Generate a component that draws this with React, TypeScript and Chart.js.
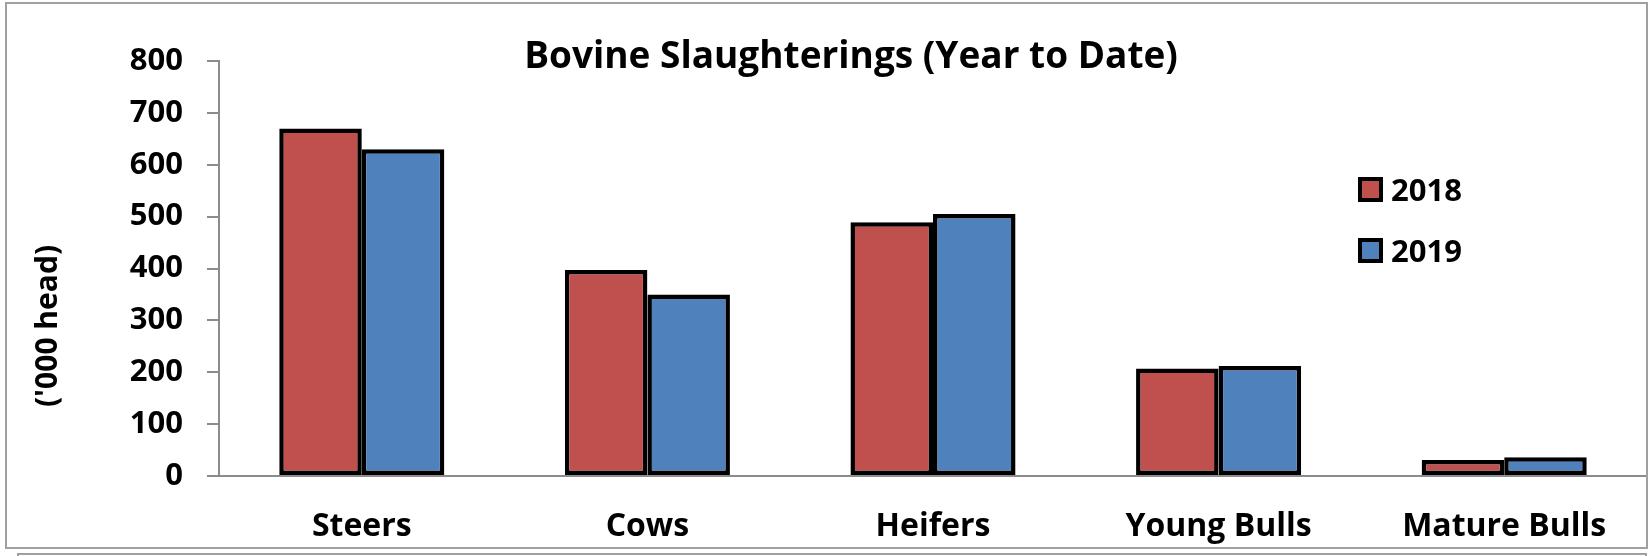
import React, { useEffect, useRef } from "react";
import { Chart, registerables } from "chart.js";

Chart.register(...registerables);

const categories = ["Steers", "Cows", "Heifers", "Young Bulls", "Mature Bulls"];
const seriesLabels = ["2018", "2019"];
const series2018 = [670, 397, 489, 207, 31];
const series2019 = [630, 350, 505, 212, 36];
const seriesColors = ["#C0504D", "#4F81BD"];
const yMin = 0;
const yMax = 800;
const yStep = 100;
const titleText = "Bovine Slaughterings (Year to Date)";
const yTitleText = "('000 head)";

const FONT = "'Open Sans', Lato, 'DejaVu Sans', sans-serif";

const decorPlugin = {
  id: "decor",
  beforeDraw(chart: any) {
    const ctx = chart.ctx;
    ctx.save();
    ctx.fillStyle = "#ffffff";
    ctx.fillRect(0, 0, chart.width, chart.height);
    ctx.restore();
  },
  afterDraw(chart: any) {
    const ctx = chart.ctx;
    ctx.save();
    // frames
    ctx.strokeStyle = "#A0A0A0";
    ctx.lineWidth = 2;
    ctx.strokeRect(6, 3, 1641, 545);
    ctx.beginPath();
    ctx.moveTo(18, 556);
    ctx.lineTo(18, 554);
    ctx.lineTo(1646, 554);
    ctx.lineTo(1646, 556);
    ctx.stroke();
    // title
    ctx.fillStyle = "#000";
    ctx.font = `bold 37px ${FONT}`;
    ctx.textAlign = "center";
    ctx.textBaseline = "alphabetic";
    ctx.fillText(titleText, 851, 68);
    // y title
    ctx.save();
    ctx.translate(57, 326);
    ctx.rotate(-Math.PI / 2);
    ctx.font = `bold 30px ${FONT}`;
    ctx.textAlign = "center";
    ctx.textBaseline = "alphabetic";
    ctx.fillText(yTitleText, 0, 0);
    ctx.restore();
    // legend
    const ds = chart.data.datasets;
    ds.forEach((d: any, i: number) => {
      const bx = 1358;
      const by = 177 + i * 61;
      ctx.fillStyle = "#000";
      ctx.fillRect(bx, by, 25, 25);
      ctx.fillStyle = d.backgroundColor;
      ctx.fillRect(bx + 4, by + 4, 17, 17);
      ctx.fillStyle = "#000";
      ctx.font = `bold 31px ${FONT}`;
      ctx.textAlign = "left";
      ctx.textBaseline = "alphabetic";
      ctx.fillText(d.label, 1391, by + 24);
    });
    ctx.restore();
  },
};

export default function App() {
  const ref = useRef<HTMLCanvasElement | null>(null);
  useEffect(() => {
    if (!ref.current) return;
    const chart = new Chart(ref.current, {
      type: "bar",
      data: {
        labels: categories,
        datasets: [series2018, series2019].map((vals, i) => ({
          label: seriesLabels[i],
          data: vals,
          backgroundColor: seriesColors[i],
          borderColor: "#000000",
          borderWidth: 4.5,
          borderSkipped: false,
          categoryPercentage: 0.578,
          barPercentage: 1,
        })),
      },
      options: {
        responsive: false,
        animation: false,
        devicePixelRatio: 1,
        layout: { padding: { top: 61, right: 4, left: 0, bottom: 0 } },
        plugins: {
          legend: { display: false },
          title: { display: false },
          tooltip: { enabled: false },
        },
        scales: {
          x: {
            afterFit: (s: any) => {
              s.height = 80;
            },
            grid: {
              display: true,
              drawOnChartArea: false,
              drawTicks: false,
              color: "rgba(0,0,0,0)",
            },
            border: { display: true, color: "#8C8C8C", width: 2 },
            ticks: {
              color: "#000",
              padding: 32,
              font: { family: FONT, size: 32, weight: "bold" },
            },
          },
          y: {
            min: yMin,
            max: yMax,
            afterFit: (s: any) => {
              s.width = 219;
            },
            grid: {
              display: true,
              drawOnChartArea: false,
              drawTicks: true,
              tickLength: 12,
              color: "#8C8C8C",
              lineWidth: 2,
            },
            border: { display: true, color: "#8C8C8C", width: 2 },
            ticks: {
              stepSize: yStep,
              color: "#000",
              padding: 24,
              font: { family: FONT, size: 31, weight: "bold" },
            },
          },
        },
      },
      plugins: [decorPlugin],
    });
    return () => chart.destroy();
  }, []);
  return (
    <div style={{ position: "fixed", left: 0, top: 0, width: 1651, height: 556, overflow: "hidden" }}>
      <canvas ref={ref} width={1651} height={556} style={{ display: "block" }} />
    </div>
  );
}
